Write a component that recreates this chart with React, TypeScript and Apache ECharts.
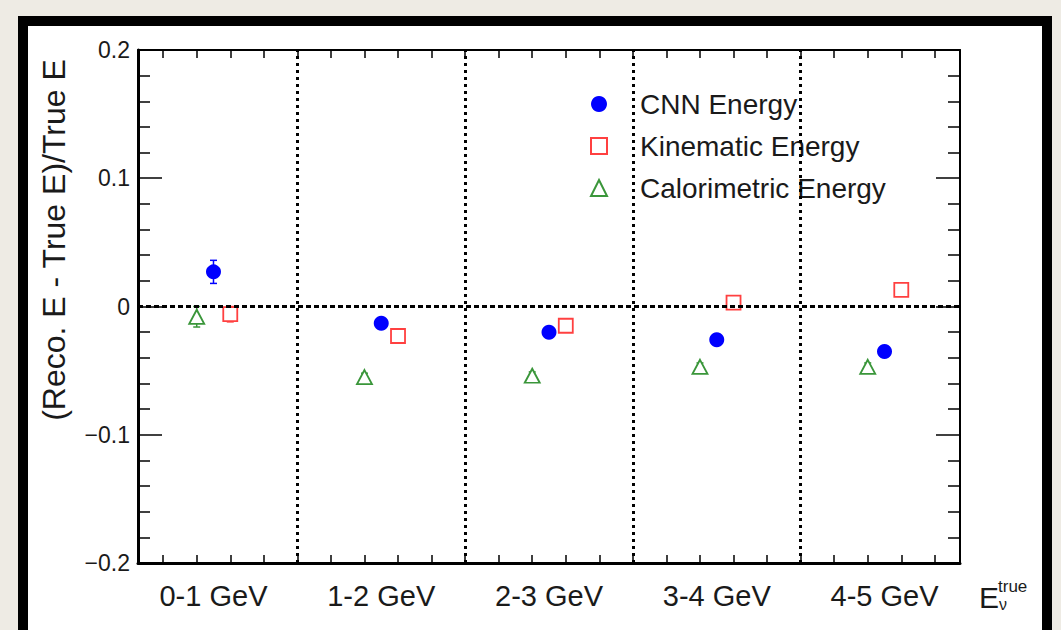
import React, { useEffect, useRef } from "react";
import * as echarts from "echarts";

const categories = ["0-1 GeV", "1-2 GeV", "2-3 GeV", "3-4 GeV", "4-5 GeV"];
const binCenters = [0.5, 1.5, 2.5, 3.5, 4.5];
const binEdges = [1, 2, 3, 4];
const xMinorTicks = [0.2, 0.4, 0.6, 0.8, 1.0, 1.2, 1.4, 1.6, 1.8, 2.0, 2.2, 2.4, 2.6, 2.8, 3.0, 3.2, 3.4, 3.6, 3.8, 4.0, 4.2, 4.4, 4.6, 4.8];

const cnnValues = [0.027, -0.013, -0.02, -0.026, -0.035];
const cnnErrors = [0.009, 0.003, 0.003, 0.003, 0.003];
const kinValues = [-0.006, -0.023, -0.015, 0.003, 0.013];
const kinErrors = [0.006, 0.003, 0.003, 0.003, 0.003];
const calValues = [-0.008, -0.055, -0.054, -0.047, -0.047];
const calErrors = [0.008, 0.003, 0.003, 0.003, 0.003];

const cnnOffset = 0.0;
const kinOffset = 0.1;
const calOffset = -0.1;

const FONT = "'Liberation Sans', Arial, Helvetica, sans-serif";
const BLUE = "#0000ff";
const RED = "#ff4040";
const GREEN = "#3a963a";

function pts(values: number[], off: number) {
  return values.map((v, i) => [binCenters[i] + off, v]);
}
function errs(values: number[], e: number[], off: number, color: string) {
  return values.map((v, i) => [binCenters[i] + off, v, e[i], color]);
}

export default function App() {
  const ref = useRef<HTMLDivElement>(null);
  useEffect(() => {
    if (!ref.current) return;
    const chart = echarts.init(ref.current, null, { renderer: "svg" });
    const errData = [
      ...errs(cnnValues, cnnErrors, cnnOffset, BLUE),
      ...errs(kinValues, kinErrors, kinOffset, RED),
      ...errs(calValues, calErrors, calOffset, GREEN),
    ];
    const xAxisCommon = {
      type: "value",
      min: 0.05,
      max: 4.95,
      splitLine: { show: false },
      axisTick: {
        show: true,
        inside: true,
        length: 8,
        customValues: xMinorTicks,
        lineStyle: { color: "#000", width: 1.5 },
      },
    };
    const yAxisCommon = {
      type: "value",
      min: -0.2,
      max: 0.2,
      interval: 0.1,
      splitLine: { show: false },
      axisTick: { show: true, inside: true, length: 24, lineStyle: { color: "#000", width: 1.5 } },
      minorTick: { show: true, splitNumber: 5, length: 12, lineStyle: { color: "#000", width: 1.5 } },
    };
    chart.setOption({
      animation: false,
      backgroundColor: "transparent",
      textStyle: { fontFamily: FONT },
      grid: { left: 138, top: 50, width: 822, height: 513, containLabel: false },
      xAxis: [
        {
          ...xAxisCommon,
          position: "bottom",
          axisLine: { show: true, onZero: false, lineStyle: { color: "#000", width: 3 } },
          axisLabel: {
            show: true,
            customValues: binCenters,
            margin: 18,
            fontSize: 29,
            color: "#1a1a1a",
            fontFamily: FONT,
            formatter: (v: number) => categories[Math.floor(v)] ?? "",
          },
        },
        {
          ...xAxisCommon,
          position: "top",
          axisLine: { show: true, onZero: false, lineStyle: { color: "#000", width: 2 } },
          axisLabel: { show: false },
        },
      ],
      yAxis: [
        {
          ...yAxisCommon,
          position: "left",
          axisLine: { show: true, onZero: false, lineStyle: { color: "#000", width: 3 } },
          axisLabel: {
            show: true,
            margin: 8,
            fontSize: 23,
            color: "#1a1a1a",
            fontFamily: FONT,
            formatter: (v: number) => {
              const s = Math.abs(v) < 1e-9 ? "0" : v.toFixed(1);
              return s.replace("-", "\u2212");
            },
          },
        },
        {
          ...yAxisCommon,
          position: "right",
          axisLine: { show: true, onZero: false, lineStyle: { color: "#000", width: 2 } },
          axisLabel: { show: false },
        },
      ],
      legend: {
        orient: "vertical",
        left: 585,
        top: 85,
        itemWidth: 16,
        itemHeight: 16,
        itemGap: 14,
        data: ["CNN Energy", "Kinematic Energy", "Calorimetric Energy"],
        textStyle: { fontSize: 28, fontFamily: FONT, color: "#1a1a1a", lineHeight: 28, padding: [0, 0, 0, 28] },
      },
      graphic: [
        {
          type: "text",
          x: 54,
          y: 240,
          rotation: Math.PI / 2,
          style: {
            text: "(Reco. E - True E)/True E",
            fontSize: 32,
            fontFamily: FONT,
            fill: "#1a1a1a",
            align: "center",
            verticalAlign: "middle",
          },
        },
        {
          type: "text",
          x: 979,
          y: 597,
          style: { text: "E", fontSize: 30, fontFamily: FONT, fill: "#1a1a1a", align: "left", verticalAlign: "middle" },
        },
        {
          type: "text",
          x: 998,
          y: 586,
          style: { text: "true", fontSize: 17, fontFamily: FONT, fill: "#1a1a1a", align: "left", verticalAlign: "middle" },
        },
        {
          type: "text",
          x: 999,
          y: 604,
          style: { text: "\u03bd", fontSize: 16, fontFamily: FONT, fill: "#1a1a1a", align: "left", verticalAlign: "middle" },
        },
      ],
      series: [
        {
          name: "refs",
          type: "line",
          data: [],
          silent: true,
          z: 1,
          markLine: {
            silent: true,
            symbol: ["none", "none"],
            label: { show: false },
            animation: false,
            data: [
              ...binEdges.map((e) => ({ xAxis: e, lineStyle: { color: "#000", type: [3, 4], width: 3 } })),
              { yAxis: 0, lineStyle: { color: "#000", type: [5, 3], width: 3 } },
            ],
          },
        },
        {
          name: "errors",
          type: "custom",
          z: 2,
          silent: true,
          data: errData,
          renderItem: (params: any, api: any) => {
            const x = api.value(0);
            const y = api.value(1);
            const e = api.value(2);
            const color = errData[params.dataIndex][3] as string;
            const top = api.coord([x, y + e]);
            const bot = api.coord([x, y - e]);
            const style = { stroke: color, lineWidth: 1.5 };
            return {
              type: "group",
              children: [
                { type: "line", shape: { x1: top[0], y1: top[1], x2: bot[0], y2: bot[1] }, style },
                { type: "line", shape: { x1: top[0] - 3.5, y1: top[1], x2: top[0] + 3.5, y2: top[1] }, style },
                { type: "line", shape: { x1: bot[0] - 3.5, y1: bot[1], x2: bot[0] + 3.5, y2: bot[1] }, style },
              ],
            };
          },
        },
        {
          name: "CNN Energy",
          type: "scatter",
          z: 3,
          symbol: "circle",
          symbolSize: 15,
          itemStyle: { color: BLUE, opacity: 1 },
          data: pts(cnnValues, cnnOffset),
        },
        {
          name: "Kinematic Energy",
          type: "scatter",
          z: 3,
          symbol: "rect",
          symbolSize: 14,
          itemStyle: { color: "#ffffff", borderColor: RED, borderWidth: 1.8, opacity: 1 },
          data: pts(kinValues, kinOffset),
        },
        {
          name: "Calorimetric Energy",
          type: "scatter",
          z: 3,
          symbol: "triangle",
          symbolSize: [15, 14],
          itemStyle: { color: "#ffffff", borderColor: GREEN, borderWidth: 1.8, opacity: 1 },
          data: pts(calValues, calOffset),
        },
      ],
    });
    return () => chart.dispose();
  }, []);

  return (
    <div style={{ position: "fixed", left: 0, top: 0, width: 1061, height: 630, background: "#eeebe4", overflow: "hidden" }}>
      <div
        style={{
          position: "absolute",
          left: 18,
          top: 16,
          width: 1034,
          height: 700,
          boxSizing: "border-box",
          border: "10px solid #000",
          background: "#fff",
        }}
      />
      <div ref={ref} style={{ position: "absolute", left: 0, top: 0, width: 1061, height: 630 }} />
    </div>
  );
}
